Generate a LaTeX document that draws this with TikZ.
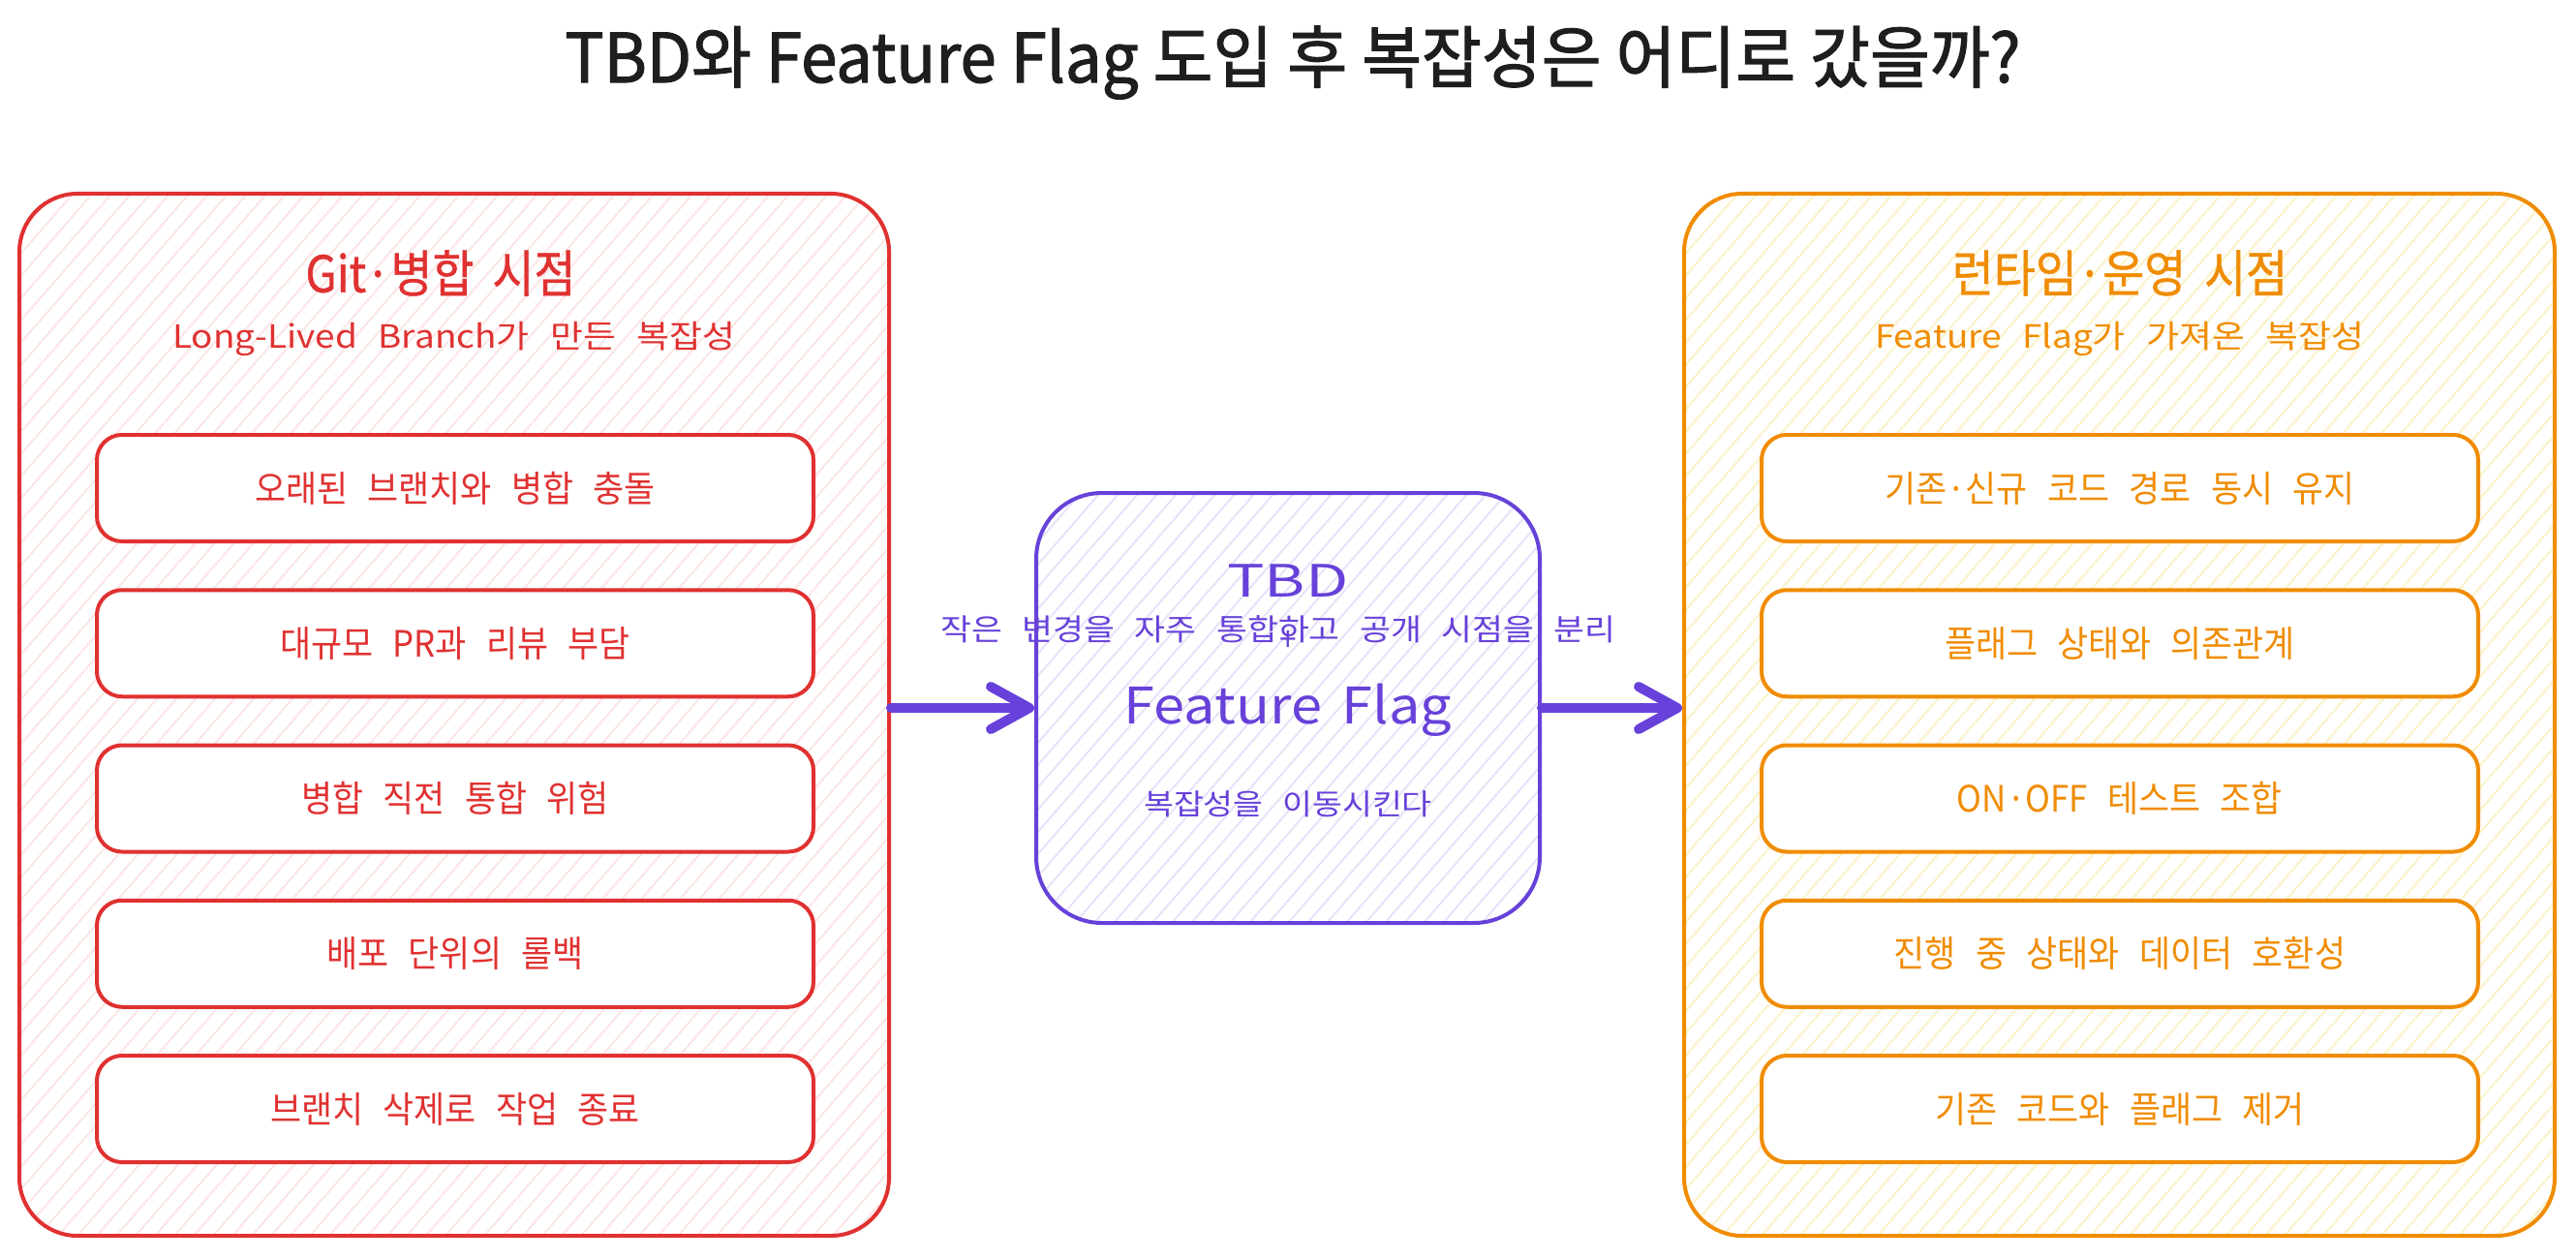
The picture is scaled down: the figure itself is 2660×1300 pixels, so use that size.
\documentclass[tikz,border=0pt]{standalone}
\usepackage{fontspec}
\setmainfont{Noto Sans CJK KR}[WordSpace=2.4]
\newfontfamily\itemfont{Noto Sans CJK KR}[WordSpace=2.6, FakeStretch=0.93]
\newfontfamily\hdrfont{Noto Sans CJK KR}[WordSpace=1.8, FakeStretch=0.9, FakeBold=0.8]
\newfontfamily\widefont{Noto Sans CJK KR}[WordSpace=2.6, FakeStretch=1.12]
\newfontfamily\flagfont{Noto Sans CJK KR}[WordSpace=1.6, FakeStretch=1.11]
\newfontfamily\tbdfont{Noto Sans CJK KR}[FakeStretch=1.4]
\newfontfamily\titlefont{Noto Sans CJK KR}[FakeStretch=0.96, FakeBold=1.6]
\usetikzlibrary{arrows.meta}
\definecolor{cred}{HTML}{E03131}
\definecolor{corange}{HTML}{F08C00}
\definecolor{cviolet}{HTML}{6741D9}
\definecolor{hred}{HTML}{FCE6E6}
\definecolor{hyellow}{HTML}{FBF2C8}
\definecolor{hviolet}{HTML}{E8E2FA}
\definecolor{ink}{HTML}{1E1E1E}
\tikzset{
  hatch/.style={path picture={
    \foreach \k in {-1200,-1180,...,1000}
      \draw[#1,line width=2pt] ([xshift=\k pt]path picture bounding box.south west) -- ++(49:1800pt);
  }},
  panel/.style={draw, fill=white, line width=4pt, inner sep=0pt},
  itembox/.style={draw, fill=white, line width=4pt, rounded corners=26pt, minimum width=740pt, minimum height=110pt, inner sep=0pt, font=\itemfont\fontsize{37.5}{42}\selectfont},
  hdr/.style={font=\hdrfont\fontsize{52}{60}\selectfont},
  subhdr/.style={font=\widefont\fontsize{33}{40}\selectfont},
  flow/.style={draw=cviolet, line width=10pt, line cap=round, -{Straight Barb[length=40pt,width=44pt,round]}},
}
\begin{document}
\begin{tikzpicture}[x=1pt,y=-1pt]
\useasboundingbox[fill=white] (0,0) rectangle (2660,1300);

% title
\node[font=\titlefont\fontsize{70}{80}\selectfont, text=ink, anchor=base] (title) at (1335,85) {TBD와 Feature Flag 도입 후 복잡성은 어디로 갔을까?};

% panels
\node[panel, draw=cred, hatch=hred, rounded corners=60pt, minimum width=898pt, minimum height=1076pt] (L) at (469,738) {};
\node[panel, draw=corange, hatch=hyellow, rounded corners=60pt, minimum width=899pt, minimum height=1076pt] (R) at (2188.5,738) {};
\node[panel, draw=cviolet, hatch=hviolet, rounded corners=68pt, minimum width=520pt, minimum height=444pt] (C) at (1330,731) {};

% left panel
\node[hdr, text=cred] (Lh) at (455,282) {Git·병합 시점};
\node[subhdr, text=cred] (Ls) at (469,350) {Long-Lived Branch가 만든 복잡성};
\node[itembox, draw=cred, text=cred] (L1) at (470,504) {오래된 브랜치와 병합 충돌};
\node[itembox, draw=cred, text=cred] (L2) at (470,664.25) {대규모 PR과 리뷰 부담};
\node[itembox, draw=cred, text=cred] (L3) at (470,824.5) {병합 직전 통합 위험};
\node[itembox, draw=cred, text=cred] (L4) at (470,984.75) {배포 단위의 롤백};
\node[itembox, draw=cred, text=cred] (L5) at (470,1145) {브랜치 삭제로 작업 종료};

% right panel
\node[hdr, text=corange] (Rh) at (2189,282) {런타임·운영 시점};
\node[subhdr, text=corange] (Rs) at (2189,350) {Feature Flag가 가져온 복잡성};
\node[itembox, draw=corange, text=corange] (R1) at (2189,504) {기존·신규 코드 경로 동시 유지};
\node[itembox, draw=corange, text=corange] (R2) at (2189,664.25) {플래그 상태와 의존관계};
\node[itembox, draw=corange, text=corange] (R3) at (2189,824.5) {ON·OFF 테스트 조합};
\node[itembox, draw=corange, text=corange] (R4) at (2189,984.75) {진행 중 상태와 데이터 호환성};
\node[itembox, draw=corange, text=corange] (R5) at (2189,1145) {기존 코드와 플래그 제거};

% center box texts
\node[font=\tbdfont\fontsize{46}{52}\selectfont, text=cviolet] (Ct) at (1330,600) {TBD};
\node[font=\itemfont\fontsize{34}{40}\selectfont, text=cviolet] (Cp) at (1330,662) {+};
\node[font=\widefont\fontsize{31}{38}\selectfont, text=cviolet] (Cs) at (1320,650) {작은 변경을 자주 통합하고 공개 시점을 분리};
\node[font=\flagfont\fontsize{52}{62}\selectfont, text=cviolet] (Cf) at (1330,733) {Feature Flag};
\node[font=\widefont\fontsize{30}{36}\selectfont, text=cviolet] (Cm) at (1330,830) {복잡성을 이동시킨다};

% arrows
\draw[flow] (L.east |- C.west) -- (C.west);
\draw[flow] (C.east) -- (R.west |- C.east);
\end{tikzpicture}
\end{document}
